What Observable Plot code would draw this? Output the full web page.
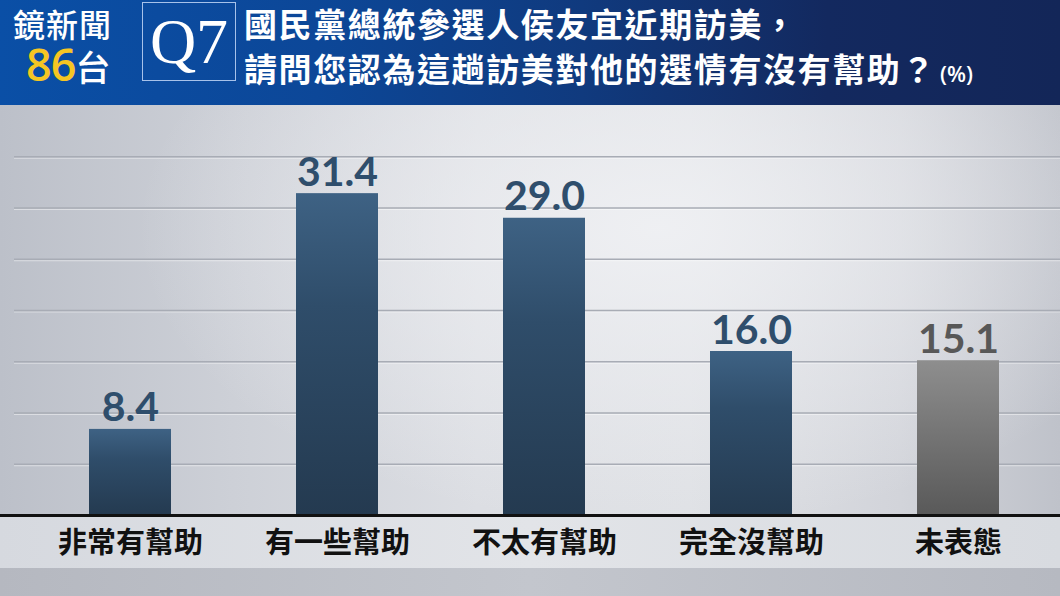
<!DOCTYPE html>
<html><head><meta charset="utf-8">
<script src="https://cdn.jsdelivr.net/npm/d3@7"></script>
<script src="https://cdn.jsdelivr.net/npm/@observablehq/plot@0.6"></script>
<style>
html,body{margin:0;padding:0;}
body{width:1060px;height:596px;overflow:hidden;font-family:"Noto Sans CJK TC",sans-serif;background:#c4c7ce;}
#header{position:relative;height:105px;background:linear-gradient(90deg,#0a4fa6 0%,#0c4798 30%,#103a7e 55%,#13295f 78%,#132658 100%);overflow:hidden;}
#brand1{position:absolute;left:13px;top:3px;height:40px;font-size:32px;font-weight:500;color:#fff;line-height:40px;white-space:nowrap;letter-spacing:1px;}
#brand2{position:absolute;left:26px;top:44px;height:40px;font-size:35px;line-height:40px;color:#fff;font-weight:500;white-space:nowrap;}
#brand2 .n{color:#f6c623;font-family:"Open Sans",sans-serif;font-size:45px;font-weight:600;letter-spacing:-1px;}
#qbox{position:absolute;left:142px;top:2px;width:92px;height:77px;border:1.5px solid #a7c2ea;color:#fff;font-family:"Liberation Serif",serif;font-size:64px;line-height:77px;text-align:center;}
.tline{position:absolute;left:244px;height:42px;color:#fff;font-size:33px;font-weight:700;line-height:42px;white-space:nowrap;letter-spacing:1.6px;}
#t1{top:2px;}
#t2{top:47px;}
.tline .pct{font-size:22px;font-family:"Open Sans",sans-serif;font-weight:600;letter-spacing:0;margin-left:4px;}
#chart{position:relative;height:491px;background:
 radial-gradient(ellipse 520px 300px at 62% 25%, rgba(240,241,244,0.9), rgba(240,241,244,0) 100%),
 linear-gradient(90deg,#bcc0c9 0%,#cdd0d7 22%,#dcdee3 45%,#dfe1e5 65%,#d2d4da 85%,#bfc2ca 100%);}
#labelband{position:absolute;left:0;top:410px;width:1060px;height:53px;background:linear-gradient(90deg,#d6d9df,#e2e4e8 50%,#d8dbe0);}
#bottomband{position:absolute;left:0;top:463px;width:1060px;height:28px;background:linear-gradient(90deg,#b5b8c0,#c3c6cd 50%,#b6b9c1);}
#plot{position:absolute;left:0;top:0;}
</style>
</head><body>
<div id="header">
  <div id="brand1">鏡新聞</div>
  <div id="brand2"><span class="n">86</span>台</div>
  <div id="qbox">Q7</div>
  <div class="tline" id="t1">國民黨總統參選人侯友宜近期訪美，</div>
  <div class="tline" id="t2">請問您認為這趟訪美對他的選情有沒有幫助？<span class="pct">(%)</span></div>
</div>
<div id="chart"><div id="labelband"></div><div id="bottomband"></div><div id="plot"></div></div>
<script>
const categories = ["非常有幫助", "有一些幫助", "不太有幫助", "完全沒幫助", "未表態"];
const values = [8.4, 31.4, 29.0, 16.0, 15.1];
const valueLabels = ["8.4", "31.4", "29.0", "16.0", "15.1"];
const gridTicks = [5, 10, 15, 20, 25, 30, 35];
const noOpinion = "未表態";

const data = categories.map((c, i) => ({category: c, value: values[i], label: valueLabels[i]}));
const isGray = d => d.category === noOpinion;

const chart = Plot.plot({
  width: 1060,
  height: 491,
  marginTop: 0,
  marginRight: 0,
  marginBottom: 81,
  marginLeft: 0,
  style: {background: "transparent", overflow: "visible"},
  x: {domain: categories, range: [88, 1000], paddingInner: 0.605, paddingOuter: 0, axis: null, label: null},
  y: {domain: [0, 40], axis: null},
  color: {type: "identity"},
  marks: [
    Plot.ruleY(gridTicks, {stroke: "#ffffff", strokeOpacity: 0.45, strokeWidth: 1, dy: 1.5, insetLeft: 14}),
    Plot.ruleY(gridTicks, {stroke: "#a8acb5", strokeWidth: 1.5, insetLeft: 14}),
    Plot.barY(data, {x: "category", y: "value", fill: d => isGray(d) ? "url(#barGray)" : "url(#barBlue)"}),
    Plot.text(data, {x: "category", y: "value", text: "label", lineAnchor: "bottom", dy: -8,
      fontSize: 41, fontWeight: "bold", fontFamily: "Lato, 'Open Sans', sans-serif",
      fill: d => isGray(d) ? "#585858" : "#2f4e6c"}),
    Plot.ruleY([0], {stroke: "#111111", strokeWidth: 3}),
    Plot.axisX({tickSize: 0, tickPadding: 17, fontSize: 29, fontWeight: "bold", color: "#111111", label: null,
      fontFamily: "'Noto Sans CJK TC', sans-serif"})
  ]
});

const defs = d3.select(chart).insert("defs", ":first-child");
const gb = defs.append("linearGradient").attr("id", "barBlue").attr("x1", 0).attr("y1", 0).attr("x2", 0).attr("y2", 1);
gb.append("stop").attr("offset", "0%").attr("stop-color", "#3e6284");
gb.append("stop").attr("offset", "35%").attr("stop-color", "#2f4d6a");
gb.append("stop").attr("offset", "100%").attr("stop-color", "#243a50");
const gg = defs.append("linearGradient").attr("id", "barGray").attr("x1", 0).attr("y1", 0).attr("x2", 0).attr("y2", 1);
gg.append("stop").attr("offset", "0%").attr("stop-color", "#8e8e8e");
gg.append("stop").attr("offset", "100%").attr("stop-color", "#595959");

document.getElementById("plot").appendChild(chart);
</script>
</body></html>
